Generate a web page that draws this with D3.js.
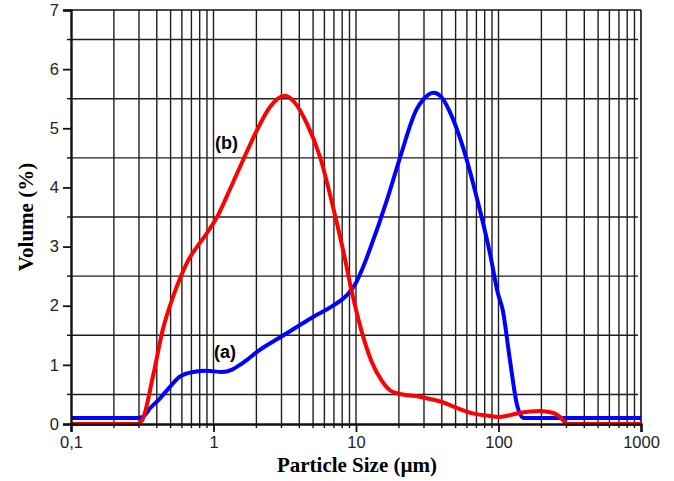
<!DOCTYPE html>
<html>
<head>
<meta charset="utf-8">
<script src="https://d3js.org/d3.v7.min.js"></script>
<style>
  body { margin: 0; background: #fff; }
  .axis text { font-family: "Liberation Sans", Arial, sans-serif; font-size: 16.5px; fill: #222; }
  .axis path, .axis line { stroke: #111; }
</style>
</head>
<body>
<div id="chart"></div>
<script>
// particle size (um) and volume (%)
var sizeA = [0.1, 0.29, 0.32, 0.36, 0.42, 0.5, 0.58, 0.72, 0.9, 1.15, 1.35, 1.6, 2.1, 3.1, 5.0, 6.9, 8.8, 9.8, 11.2, 12.5, 16.5, 20.4, 26.5, 30, 34.9, 40, 45.9, 56.3, 71, 87, 99, 107, 120, 135, 150, 200, 1000];
var volA  = [0.1, 0.1, 0.12, 0.27, 0.43, 0.64, 0.8, 0.88, 0.9, 0.88, 0.92, 1.03, 1.25, 1.5, 1.81, 2.0, 2.2, 2.35, 2.65, 2.95, 3.79, 4.51, 5.31, 5.5, 5.6, 5.52, 5.26, 4.68, 3.79, 2.89, 2.21, 1.93, 1.1, 0.32, 0.1, 0.1, 0.1];

var sizeB = [0.1, 0.29, 0.315, 0.377, 0.44, 0.52, 0.65, 0.9, 1.06, 1.3, 1.61, 2.02, 2.49, 3.17, 3.7, 4.5, 5.6, 6.9, 8.1, 9.4, 11, 12.9, 15, 17.3, 19.4, 28, 39, 50, 66, 85, 100, 120, 142, 195, 240, 270, 305, 1000];
var volB  = [0, 0, 0.06, 0.82, 1.59, 2.15, 2.72, 3.23, 3.5, 3.96, 4.46, 4.97, 5.36, 5.55, 5.44, 5.09, 4.51, 3.67, 2.95, 2.21, 1.55, 1.05, 0.75, 0.57, 0.52, 0.46, 0.38, 0.28, 0.18, 0.14, 0.12, 0.15, 0.19, 0.22, 0.19, 0.12, 0, 0];

var xTicks = [0.1, 1, 10, 100, 1000];
var xTickLabels = ["0,1", "1", "10", "100", "1000"];
var yTicks = [0, 1, 2, 3, 4, 5, 6, 7];

var W = 674, H = 481;
var margin = {top: 10, right: 33, bottom: 57, left: 71};
var width = W - margin.left - margin.right,
    height = H - margin.top - margin.bottom;

var x = d3.scaleLog().domain([0.1, 1000]).range([0, width]);
var y = d3.scaleLinear().domain([0, 7]).range([height, 0]);

var svg = d3.select("#chart").append("svg")
    .attr("width", W).attr("height", H);
var g = svg.append("g")
    .attr("transform", "translate(" + margin.left + "," + margin.top + ")");

// minor decade values for vertical grid
var minor = [];
[0.1, 1, 10, 100].forEach(function(d) {
  for (var k = 2; k <= 9; k++) minor.push(d * k);
});
var halfs = d3.range(0.5, 7, 1);

g.append("g").selectAll("line").data(minor.concat([1, 10, 100])).enter().append("line")
    .attr("x1", function(d) { return x(d); }).attr("x2", function(d) { return x(d); })
    .attr("y1", 0).attr("y2", height)
    .attr("stroke", "#1e1e1e").attr("stroke-width", 1.4);

g.append("g").selectAll("line").data(halfs).enter().append("line")
    .attr("x1", 0).attr("x2", width - 3)
    .attr("y1", function(d) { return y(d); }).attr("y2", function(d) { return y(d); })
    .attr("stroke", "#1e1e1e").attr("stroke-width", 1.4);

// frame
g.append("line").attr("x1", 0).attr("x2", width).attr("y1", 0).attr("y2", 0)
    .attr("stroke", "#111").attr("stroke-width", 1.6);
g.append("line").attr("x1", width).attr("x2", width).attr("y1", 0).attr("y2", height)
    .attr("stroke", "#111").attr("stroke-width", 1.6);

// curves
var line = d3.line()
    .x(function(d) { return x(d[0]); })
    .y(function(d) { return y(d[1]); })
    .curve(d3.curveMonotoneX);

g.append("path").datum(d3.zip(sizeA, volA))
    .attr("d", line).attr("fill", "none")
    .attr("stroke", "#0000ff").attr("stroke-width", 4).attr("stroke-linejoin", "round");

g.append("path").datum(d3.zip(sizeB, volB))
    .attr("d", line).attr("fill", "none")
    .attr("stroke", "#ff0000").attr("stroke-width", 4).attr("stroke-linejoin", "round");

// minor ticks
g.append("g").selectAll("line").data(minor).enter().append("line")
    .attr("x1", function(d) { return x(d); }).attr("x2", function(d) { return x(d); })
    .attr("y1", height).attr("y2", height + 4)
    .attr("stroke", "#111").attr("stroke-width", 1.4);
g.append("g").selectAll("line").data(halfs).enter().append("line")
    .attr("x1", -4).attr("x2", 0)
    .attr("y1", function(d) { return y(d); }).attr("y2", function(d) { return y(d); })
    .attr("stroke", "#111").attr("stroke-width", 1.4);

// axes
var xAxis = g.append("g").attr("class", "axis")
    .attr("transform", "translate(0," + height + ")")
    .call(d3.axisBottom(x).tickValues(xTicks).tickSize(8).tickPadding(4)
      .tickFormat(function(d, i) { return xTickLabels[i]; }));
xAxis.select(".domain").attr("stroke-width", 2.4);
xAxis.selectAll(".tick line").attr("stroke-width", 1.8);

var yAxis = g.append("g").attr("class", "axis")
    .call(d3.axisLeft(y).tickValues(yTicks).tickSize(8).tickPadding(4).tickFormat(d3.format("d")));
yAxis.select(".domain").attr("stroke-width", 2.4);
yAxis.selectAll(".tick line").attr("stroke-width", 1.8);

// axis titles
svg.append("text")
    .attr("x", 357).attr("y", 472)
    .attr("text-anchor", "middle")
    .attr("font-family", "Liberation Serif, Times New Roman, serif")
    .attr("font-weight", "bold").attr("font-size", "21px")
    .text("Particle Size (\u00b5m)");

svg.append("text")
    .attr("transform", "translate(33,217) rotate(-90)")
    .attr("text-anchor", "middle")
    .attr("font-family", "Liberation Serif, Times New Roman, serif")
    .attr("font-weight", "bold").attr("font-size", "21px")
    .text("Volume (%)");

// curve labels
svg.append("text").attr("x", 215).attr("y", 149)
    .attr("font-family", "Liberation Sans, Arial, sans-serif")
    .attr("font-weight", "bold").attr("font-size", "18px").text("(b)");
svg.append("text").attr("x", 214).attr("y", 358)
    .attr("font-family", "Liberation Sans, Arial, sans-serif")
    .attr("font-weight", "bold").attr("font-size", "18px").text("(a)");
</script>
</body>
</html>
